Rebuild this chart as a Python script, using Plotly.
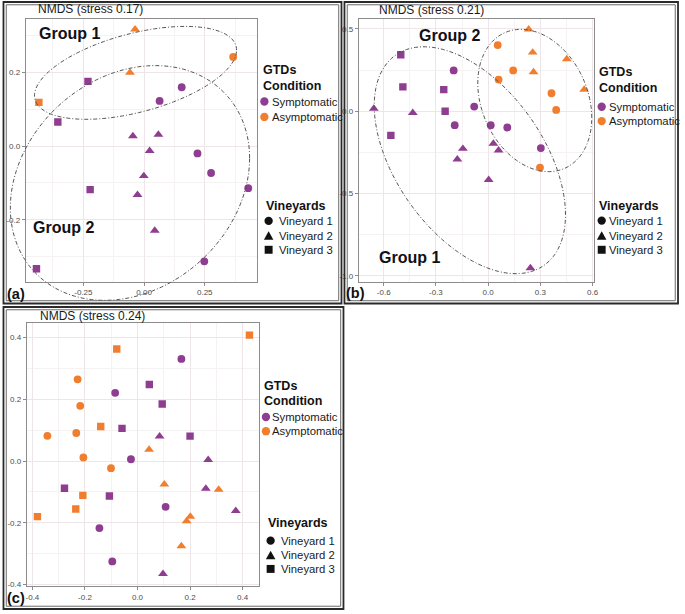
import numpy as np
import plotly.graph_objects as go

W, H = 685, 614
FONT = "Liberation Sans, Arial, sans-serif"
PURPLE = "#8E3D91"
ORANGE = "#F07E2E"

# ---------------- data ----------------
conditions = ["Symptomatic", "Asymptomatic"]
cond_codes = ["S", "A"]
vineyards = ["Vineyard 1", "Vineyard 2", "Vineyard 3"]
titles = ["NMDS (stress 0.17)", "NMDS (stress 0.21)", "NMDS (stress 0.24)"]
panel_labels = ["(a)", "(b)", "(c)"]

# panel (a)
a_x = [-0.037, 0.367, -0.058, -0.231, -0.433, 0.155, 0.064, -0.355, -0.046, 0.059,
       0.023, 0.220, 0.276, -0.001, -0.222, -0.027, 0.429, 0.044, 0.248, -0.443]
a_y = [0.316, 0.241, 0.199, 0.175, 0.118, 0.159, 0.122, 0.065, 0.027, 0.031,
       -0.013, -0.020, -0.073, -0.081, -0.118, -0.132, -0.114, -0.229, -0.312, -0.332]
a_cond = ["A", "A", "A", "S", "A", "S", "S", "S", "S", "S",
          "S", "S", "S", "S", "S", "S", "S", "S", "S", "S"]
a_vine = [2, 1, 2, 3, 3, 1, 1, 3, 2, 2, 2, 1, 1, 2, 3, 2, 1, 2, 1, 3]

# panel (b)
b_x = [0.233, 0.055, -0.502, 0.256, 0.452, -0.198, 0.144, 0.261, 0.060, -0.490,
       -0.255, 0.552, 0.364, -0.657, -0.433, -0.247, 0.391, -0.080, -0.192, 0.015,
       0.110, -0.559, 0.030, 0.303, -0.145, 0.060, -0.177, 0.298, 0.003, 0.243]
b_y = [0.498, 0.402, 0.343, 0.357, 0.317, 0.248, 0.248, 0.238, 0.192, 0.148,
       0.131, 0.131, 0.109, 0.016, -0.010, 0.000, 0.008, 0.028, -0.085, -0.085,
       -0.099, -0.147, -0.197, -0.224, -0.228, -0.238, -0.292, -0.343, -0.417, -0.954]
b_cond = ["A", "A", "S", "A", "A", "S", "A", "A", "A", "S",
          "S", "A", "A", "S", "S", "S", "A", "S", "S", "S",
          "S", "S", "S", "S", "S", "S", "S", "A", "S", "S"]
b_vine = [2, 1, 3, 2, 2, 1, 1, 2, 1, 3, 3, 2, 1, 2, 2, 3, 1, 1, 1, 1,
          1, 3, 2, 1, 2, 2, 2, 1, 2, 2]

# panel (c)
c_x = [-0.079, 0.167, -0.228, 0.045, -0.085, -0.218, 0.094, -0.140, -0.059, -0.343,
       -0.233, 0.084, 0.200, 0.044, -0.206, -0.025, 0.269, -0.101, -0.278, 0.102,
       0.260, 0.309, -0.208, -0.107, 0.374, -0.235, 0.107, -0.381, 0.201, 0.187,
       -0.145, 0.167, -0.096, 0.097, 0.426]
c_y = [0.363, 0.331, 0.265, 0.248, 0.221, 0.179, 0.185, 0.112, 0.106, 0.082,
       0.091, 0.080, 0.081, 0.037, 0.012, 0.006, 0.004, -0.023, -0.088, -0.075,
       -0.089, -0.092, -0.111, -0.113, -0.161, -0.155, -0.148, -0.180, -0.180, -0.194,
       -0.217, -0.275, -0.325, -0.365, 0.408]
c_cond = ["A", "S", "A", "S", "S", "A", "S", "A", "S", "A",
          "A", "S", "S", "A", "A", "S", "S", "A", "S", "A",
          "S", "A", "A", "S", "S", "A", "S", "A", "A", "A",
          "S", "A", "S", "S", "A"]
c_vine = [3, 1, 1, 3, 1, 1, 3, 3, 3, 1, 1, 2, 3, 2, 1, 1, 2, 1, 3, 2,
          2, 2, 3, 3, 2, 3, 1, 3, 2, 2, 1, 2, 1, 2, 3]

# group ellipses: centre and covariance-like shape matrix
ellipse_centres = {"a1": (-0.035, 0.198), "a2": (-0.058, -0.100),
                   "b2": (0.268, 0.065), "b1": (-0.105, -0.298)}
ellipse_shapes = {"a1": [[0.1731, 0.0256], [0.0256, 0.0158]],
                  "a2": [[0.2427, 0.0332], [0.0332, 0.1009]],
                  "b2": [[0.1072, -0.0345], [-0.0345, 0.1871]],
                  "b1": [[0.302, -0.1826], [-0.1826, 0.4756]]}
ellipse_panel = {"a1": 0, "a2": 0, "b2": 1, "b1": 1}

# ---------------- layout config ----------------
COLORS = {"S": PURPLE, "A": ORANGE}
SYMBOLS = {1: "circle", 2: "triangle-up", 3: "square"}
SIZES = {1: 7.8, 2: 8.6, 3: 7.4}

panels = [
    dict(x=a_x, y=a_y, cond=a_cond, vine=a_vine,
         box=(25, 19, 258, 283), xr=(-0.487, 0.464), yr=(-0.367, 0.344),
         xt=[-0.25, 0, 0.25], xtt=["-0.25", "0.00", "0.25"], xm=(-0.125, 0.25),
         yt=[-0.2, 0, 0.2], ytt=["-0.2", "0.0", "0.2"], ym=(-0.1, 0.2)),
    dict(x=b_x, y=b_y, cond=b_cond, vine=b_vine,
         box=(361, 19, 598, 283), xr=(-0.743, 0.607), yr=(-1.036, 0.561),
         xt=[-0.6, -0.3, 0, 0.3, 0.6], xtt=["-0.6", "-0.3", "0.0", "0.3", "0.6"], xm=(-0.15, 0.3),
         yt=[-1.0, -0.5, 0, 0.5], ytt=["-1.0", "-0.5", "0.0", "0.5"], ym=(-0.25, 0.5)),
    dict(x=c_x, y=c_y, cond=c_cond, vine=c_vine,
         box=(26, 325, 260.7, 589), xr=(-0.4215, 0.464), yr=(-0.405, 0.446),
         xt=[-0.4, -0.2, 0, 0.2, 0.4], xtt=["-0.4", "-0.2", "0.0", "0.2", "0.4"], xm=(-0.1, 0.2),
         yt=[-0.4, -0.2, 0, 0.2, 0.4], ytt=["-0.4", "-0.2", "0.0", "0.2", "0.4"], ym=(-0.1, 0.2)),
]

fig = go.Figure()
layout_axes = {}
for i, p in enumerate(panels):
    sfx = "" if i == 0 else str(i + 1)
    x0, y0, x1, y1 = p["box"]
    for cc in cond_codes:
        for v in (1, 2, 3):
            idx = [k for k in range(len(p["x"])) if p["cond"][k] == cc and p["vine"][k] == v]
            if not idx:
                continue
            fig.add_trace(go.Scatter(
                x=[p["x"][k] for k in idx], y=[p["y"][k] for k in idx],
                mode="markers", xaxis="x" + sfx, yaxis="y" + sfx, showlegend=False,
                name=f"{conditions[cond_codes.index(cc)]} - {vineyards[v - 1]}",
                marker=dict(color=COLORS[cc], symbol=SYMBOLS[v], size=SIZES[v],
                            line=dict(width=0))))
    common = dict(showgrid=True, gridcolor="#EEE5E9", gridwidth=1, zeroline=False,
                  showline=True, linecolor="#8C8C8C", linewidth=1, mirror=True,
                  ticks="outside", ticklen=3, tickcolor="#8C8C8C", tickwidth=1,
                  tickfont=dict(size=8, color="#4D4D4D", family=FONT))
    layout_axes["xaxis" + sfx] = dict(common, domain=[x0 / W, x1 / W], range=list(p["xr"]),
                                      tickmode="array", tickvals=p["xt"], ticktext=p["xtt"],
                                      anchor="y" + sfx,
                                      minor=dict(tickmode="linear", tick0=p["xm"][0], dtick=p["xm"][1],
                                                 showgrid=True, gridcolor="#F6F1F3", ticks=""))
    layout_axes["yaxis" + sfx] = dict(common, domain=[1 - y1 / H, 1 - y0 / H], range=list(p["yr"]),
                                      tickmode="array", tickvals=p["yt"], ticktext=p["ytt"],
                                      anchor="x" + sfx,
                                      minor=dict(tickmode="linear", tick0=p["ym"][0], dtick=p["ym"][1],
                                                 showgrid=True, gridcolor="#F6F1F3", ticks=""))

fig.update_layout(**layout_axes)


def to_paper(px, py):
    return px / W, 1 - py / H


shapes = []
# group ellipses, drawn in paper space so they may run past the panel edge
for key, centre in ellipse_centres.items():
    p = panels[ellipse_panel[key]]
    x0, y0, x1, y1 = p["box"]
    L = np.linalg.cholesky(np.array(ellipse_shapes[key]))
    t = np.linspace(0, 2 * np.pi, 160)
    pts = np.array(centre)[:, None] + L @ np.vstack([np.cos(t), np.sin(t)])
    px = x0 + (pts[0] - p["xr"][0]) / (p["xr"][1] - p["xr"][0]) * (x1 - x0)
    py = y1 - (pts[1] - p["yr"][0]) / (p["yr"][1] - p["yr"][0]) * (y1 - y0)
    path = "M " + " L ".join(f"{a / W:.5f},{1 - b / H:.5f}" for a, b in zip(px, py)) + " Z"
    shapes.append(dict(type="path", path=path, xref="paper", yref="paper",
                       line=dict(color="#555555", width=1, dash="4px,2px,1px,2px")))

# panel frames (double lines)
frames = [(2.5, 2, 343.5, 305), (346.5, 2, 683, 305), (2.5, 308.5, 345.5, 612)]
for (fx0, fy0, fx1, fy1) in frames:
    for inset, col, wd in ((0, "#2A2A2A", 1.8), (2.8, "#6A6A6A", 1)):
        a0, b0 = to_paper(fx0 + inset, fy0 + inset)
        a1, b1 = to_paper(fx1 - inset, fy1 - inset)
        shapes.append(dict(type="rect", xref="paper", yref="paper", x0=a0, x1=a1, y0=b1, y1=b0,
                           line=dict(color=col, width=wd), fillcolor="rgba(0,0,0,0)"))


def key_marker(kind, cx, cy, color):
    if kind == 1:
        r = 4.2
        a0, b0 = to_paper(cx - r, cy - r)
        a1, b1 = to_paper(cx + r, cy + r)
        return dict(type="circle", xref="paper", yref="paper", x0=a0, x1=a1, y0=b1, y1=b0,
                    fillcolor=color, line=dict(width=0))
    if kind == 3:
        r = 4.0
        a0, b0 = to_paper(cx - r, cy - r)
        a1, b1 = to_paper(cx + r, cy + r)
        return dict(type="rect", xref="paper", yref="paper", x0=a0, x1=a1, y0=b1, y1=b0,
                    fillcolor=color, line=dict(width=0))
    hw, hh = 4.8, 4.2
    pts = [(cx, cy - hh), (cx + hw, cy + hh), (cx - hw, cy + hh)]
    path = "M " + " L ".join(f"{x / W:.5f},{1 - y / H:.5f}" for x, y in pts) + " Z"
    return dict(type="path", path=path, xref="paper", yref="paper",
                fillcolor=color, line=dict(width=0))


annotations = []


def ann(text, px, py, size, color="#111111", xanchor="left"):
    a, b = to_paper(px, py)
    annotations.append(dict(text=text, x=a, y=b, xref="paper", yref="paper",
                            xanchor=xanchor, yanchor="middle", showarrow=False,
                            borderpad=0,
                            font=dict(size=size, color=color, family=FONT)))


# titles and panel letters
title_pos = [(36.7, 9), (380, 10), (38, 317.5)]
letter_pos = [(5.5, 295), (347.5, 294), (5, 600.5)]
for i in range(3):
    ann(titles[i], *title_pos[i], 12, "#1A1A1A")
    ann("<b>" + panel_labels[i] + "</b>", *letter_pos[i], 14.5, "#111111")

# group labels
group_labels = [("Group 1", 69.5, 33.5), ("Group 2", 63, 228.5),
                ("Group 2", 452, 36), ("Group 1", 411.7, 258.5)]
for txt, gx, gy in group_labels:
    ann("<b>" + txt + "</b>", gx, gy, 16, "#111111", xanchor="center")

# legends
legend_cfg = [
    dict(title_x=263.3, gtd_y=70, cond_y=86, cm_x=265.7, ct_x=272.2, c_y=(102, 117.5),
         vt_x=266.7, vtit_y=207.5, vm_x=270, vtx=279, v_y=(222, 236.7, 251)),
    dict(title_x=602.7, gtd_y=72.7, cond_y=88.5, cm_x=606, ct_x=612, c_y=(107.3, 121.7),
         vt_x=602.7, vtit_y=207.3, vm_x=606, vtx=612.2, v_y=(221.7, 236.7, 251)),
    dict(title_x=264, gtd_y=387.7, cond_y=402.7, cm_x=267.3, ct_x=272.8, c_y=(419, 433.3),
         vt_x=268.3, vtit_y=526, vm_x=272, vtx=281.2, v_y=(543.3, 557.7, 571.7)),
]
for lg in legend_cfg:
    ann("<b>GTDs</b>", lg["title_x"], lg["gtd_y"], 12.5)
    ann("<b>Condition</b>", lg["title_x"], lg["cond_y"], 12.5)
    for j, cname in enumerate(conditions):
        shapes.append(key_marker(1, lg["cm_x"], lg["c_y"][j], COLORS[cond_codes[j]]))
        ann(cname, lg["ct_x"], lg["c_y"][j], 11.3, "#1A1A1A")
    ann("<b>Vineyards</b>", lg["vt_x"], lg["vtit_y"], 12.5)
    for j, vname in enumerate(vineyards):
        shapes.append(key_marker(j + 1, lg["vm_x"], lg["v_y"][j], "#111111"))
        ann(vname, lg["vtx"], lg["v_y"][j], 11.3, "#1A1A1A")

fig.update_layout(
    width=W, height=H, autosize=False,
    margin=dict(l=0, r=0, t=0, b=0, pad=0),
    paper_bgcolor="white", plot_bgcolor="white",
    font=dict(family=FONT),
    shapes=shapes, annotations=annotations, showlegend=False,
)

fig.write_html(
    "out.html",
    config={"displayModeBar": False},
    post_script="document.body.style.margin='0';document.body.style.padding='0';"
                "document.body.style.overflow='hidden';",
)
